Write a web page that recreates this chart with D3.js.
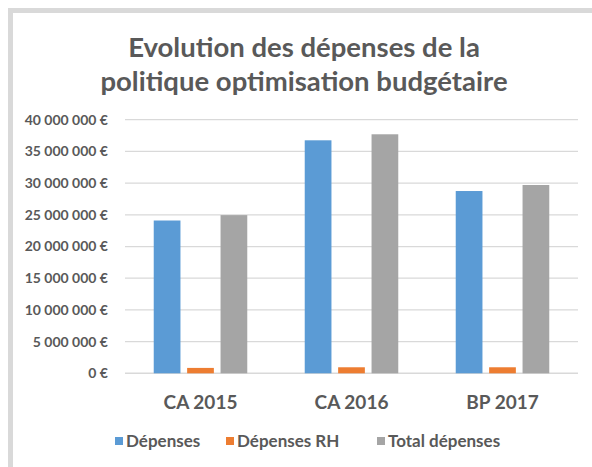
<!DOCTYPE html>
<html>
<head>
    <meta charset="utf-8">
    <script src="https://d3js.org/d3.v7.min.js"></script>
    <style>
        body { margin: 0; background: #fff; }
        text { font-family: Lato, "Open Sans", sans-serif; font-weight: bold; fill: #595959; }
    </style>
</head>
<body>
    <svg id="chart" width="592" height="467"></svg>
    <script>
        const categories = ["CA 2015", "CA 2016", "BP 2017"];
        const seriesNames = ["Dépenses", "Dépenses RH", "Total dépenses"];
        const depenses = [24100000, 36750000, 28750000];
        const depensesRH = [850000, 950000, 950000];
        const totalDepenses = [24950000, 37700000, 29700000];
        const yTicks = [0, 5000000, 10000000, 15000000, 20000000, 25000000, 30000000, 35000000, 40000000];
        const colors = ["#5b9bd5", "#ed7d31", "#a5a5a5"];
        const titleLines = ["Evolution des dépenses de la", "politique optimisation budgétaire"];

        const seriesValues = [depenses, depensesRH, totalDepenses];
        const data = categories.map((c, i) => ({
            cat: c,
            values: seriesNames.map((s, j) => ({ series: s, value: seriesValues[j][i], color: colors[j] }))
        }));

        const svg = d3.select("#chart");

        // chart frame (only top / left edges visible)
        svg.append("rect")
            .attr("x", 10.5).attr("y", 10.5)
            .attr("width", 700).attr("height", 600)
            .attr("fill", "none")
            .attr("stroke", "#d9d9d9")
            .attr("stroke-width", 5);

        const plot = { left: 125, right: 578, top: 119.7, bottom: 373.3 };

        const frLocale = d3.formatLocale({
            decimal: ",", thousands: " ", grouping: [3], currency: ["", " €"]
        });
        const fmt = frLocale.format("$,.0f");

        const y = d3.scaleLinear()
            .domain([0, 40000000])
            .range([plot.bottom, plot.top]);

        const x0 = d3.scaleBand()
            .domain(categories)
            .range([plot.left, plot.right]);

        const x1 = d3.scaleBand()
            .domain(seriesNames)
            .range([0, x0.bandwidth()])
            .paddingInner(0.2)
            .paddingOuter(0.86);

        // gridlines
        svg.append("g")
            .selectAll("line")
            .data(yTicks)
            .join("line")
            .attr("x1", plot.left)
            .attr("x2", plot.right)
            .attr("y1", d => y(d))
            .attr("y2", d => y(d))
            .attr("stroke", "#d9d9d9")
            .attr("stroke-width", d => d === 0 ? 1.5 : 1.25);

        // y axis labels
        const yAxis = svg.append("g")
            .attr("transform", `translate(${plot.left},0)`)
            .call(d3.axisLeft(y).tickValues(yTicks).tickFormat(fmt).tickSize(0).tickPadding(17));
        yAxis.select(".domain").remove();
        yAxis.selectAll("text")
            .attr("font-size", 14)
            .style("font-family", "Lato, sans-serif")
            .style("font-weight", "bold")
            .attr("fill", "#595959");

        // bars
        svg.append("g")
            .selectAll("g")
            .data(data)
            .join("g")
            .attr("transform", d => `translate(${x0(d.cat)},0)`)
            .selectAll("rect")
            .data(d => d.values)
            .join("rect")
            .attr("x", d => x1(d.series))
            .attr("width", x1.bandwidth())
            .attr("y", d => y(d.value))
            .attr("height", d => y(0) - y(d.value))
            .attr("fill", d => d.color);

        // category labels
        const xAxis = svg.append("g")
            .attr("transform", `translate(0,${plot.bottom})`)
            .call(d3.axisBottom(x0).tickSize(0).tickPadding(22));
        xAxis.select(".domain").remove();
        xAxis.selectAll("text")
            .attr("font-size", 19)
            .style("font-family", "Lato, sans-serif")
            .style("font-weight", "bold")
            .attr("fill", "#595959");

        // title
        svg.append("text")
            .attr("x", 304)
            .attr("y", 57)
            .attr("text-anchor", "middle")
            .attr("font-size", 27.5)
            .text(titleLines[0]);
        svg.append("text")
            .attr("x", 304)
            .attr("y", 91)
            .attr("text-anchor", "middle")
            .attr("font-size", 27.5)
            .text(titleLines[1]);

        // legend
        const legendX = [115, 226, 377];
        const legend = svg.append("g")
            .selectAll("g")
            .data(seriesNames)
            .join("g")
            .attr("transform", (d, i) => `translate(${legendX[i]},441)`);
        legend.append("rect")
            .attr("x", 0).attr("y", -4)
            .attr("width", 8).attr("height", 8)
            .attr("fill", (d, i) => colors[i]);
        legend.append("text")
            .attr("x", 11)
            .attr("y", 6)
            .attr("font-size", 17)
            .text(d => d);
    </script>
</body>
</html>
